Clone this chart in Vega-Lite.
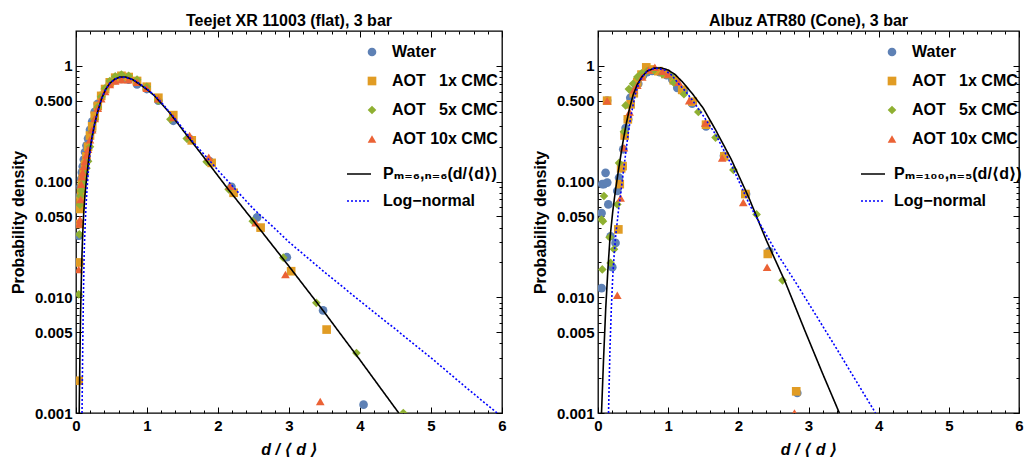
{
  "$schema": "https://vega.github.io/schema/vega-lite/v6.json",
  "background": "white",
  "padding": {"left": 9, "top": 11, "right": 3, "bottom": 0},
  "config": {
    "font": "Liberation Sans, DejaVu Sans",
    "view": {"stroke": "black", "strokeWidth": 1.3},
    "axis": {"grid": false, "domain": false, "labelFont": "Liberation Sans, DejaVu Sans", "labelFontWeight": "bold", "labelFontSize": 15, "labelColor": "black", "titleFont": "Liberation Sans, DejaVu Sans", "titleFontWeight": "bold", "titleFontSize": 16, "titleColor": "black", "tickColor": "black", "tickWidth": 1},
    "legend": {"labelFont": "Liberation Sans, DejaVu Sans", "labelFontWeight": "bold", "labelFontSize": 16, "labelColor": "black", "padding": 0, "labelLimit": 400},
    "title": {"font": "Liberation Sans, DejaVu Sans", "fontSize": 16, "fontWeight": "bold", "color": "black"}
  },
  "spacing": 24,
  "resolve": {"scale": {"color": "independent", "shape": "independent", "strokeDash": "independent"}},
  "hconcat": [
    {
      "width": 426, "height": 382,
      "title": {"text": "Teejet XR 11003 (flat), 3 bar", "frame": "group", "offset": 2},
      "layer": [
        {
          "data": {"name": "ptsL"},
          "mark": {"type": "point", "filled": true, "opacity": 1, "size": 75, "clip": true},
          "encoding": {
            "x": {"field": "x", "type": "quantitative", "scale": {"domain": [0, 6], "nice": false, "zero": false}, "axis": {"orient": "bottom", "values": [0,1,2,3,4,5,6], "labelFlush": false, "tickSize": -6, "labelPadding": 11, "title": "d / ⟨ d ⟩", "titleFontStyle": "italic", "titlePadding": 8}},
            "y": {"field": "y", "type": "quantitative", "scale": {"type": "log", "domain": [0.001, 2], "nice": false}, "axis": {"orient": "left", "values": [0.001,0.005,0.01,0.05,0.1,0.5,1], "labelFlush": false, "labelExpr": "datum.value >= 1 ? '1' : format(datum.value, '.3f')", "tickSize": -6, "labelPadding": 10, "title": "Probability density", "titlePadding": 8}},
            "color": {"field": "s", "type": "nominal", "scale": {"domain": ["W", "A1", "A5", "A10"], "range": ["#5E81B5", "#E19C24", "#8FB032", "#EB6235"]}, "legend": {"title": null, "orient": "none", "legendX": 288, "legendY": 13, "rowPadding": 13, "labelOffset": 12, "symbolSize": 75, "symbolStrokeWidth": 0, "labelExpr": "datum.label == 'W' ? 'Water' : datum.label == 'A1' ? 'AOT\u00a0\u00a0\u00a01x CMC' : datum.label == 'A5' ? 'AOT\u00a0\u00a0\u00a05x CMC' : 'AOT 10x CMC'"}},
            "shape": {"field": "s", "type": "nominal", "scale": {"domain": ["W", "A1", "A5", "A10"], "range": ["circle", "square", "diamond", "triangle-up"]}, "legend": {"title": null, "orient": "none", "legendX": 288, "legendY": 13, "rowPadding": 13, "labelOffset": 12, "symbolSize": 75, "symbolStrokeWidth": 0, "labelExpr": "datum.label == 'W' ? 'Water' : datum.label == 'A1' ? 'AOT\u00a0\u00a0\u00a01x CMC' : datum.label == 'A5' ? 'AOT\u00a0\u00a0\u00a05x CMC' : 'AOT 10x CMC'"}}
          }
        },
        {
          "data": {"name": "curL"},
          "mark": {"type": "line", "strokeWidth": 1.6, "clip": true},
          "encoding": {
            "x": {"field": "x", "type": "quantitative", "scale": {"domain": [0, 6], "nice": false, "zero": false}, "axis": {"orient": "bottom", "values": [0.2,0.4,0.6,0.8,1.2,1.4,1.6,1.8,2.2,2.4,2.6,2.8,3.2,3.4,3.6,3.8,4.2,4.4,4.6,4.8,5.2,5.4,5.6,5.8], "tickSize": -3, "labels": false, "title": null}},
            "y": {"field": "y", "type": "quantitative", "scale": {"type": "log", "domain": [0.001, 2], "nice": false}, "axis": {"orient": "left", "values": [0.002,0.003,0.004,0.006,0.007,0.008,0.009,0.02,0.03,0.04,0.06,0.07,0.08,0.09,0.2,0.3,0.4,0.6,0.7,0.8,0.9], "tickSize": -3, "labels": false, "title": null}},
            "color": {"field": "c", "type": "nominal", "scale": {"domain": ["P", "LN"], "range": ["black", "#0000FF"]}, "legend": {"title": null, "orient": "none", "legendX": 270, "legendY": 130, "rowPadding": 6, "labelOffset": 11, "symbolSize": 576, "symbolStrokeWidth": 1.6, "symbolType": "stroke", "labelExpr": "datum.label == 'P' ? 'Pₘ₌₆,ₙ₌₆(d/⟨d⟩)' : 'Log−normal'"}},
            "strokeDash": {"field": "c", "type": "nominal", "scale": {"domain": ["P", "LN"], "range": [[1, 0], [2, 2]]}, "legend": {"title": null, "orient": "none", "legendX": 270, "legendY": 130, "rowPadding": 6, "labelOffset": 11, "symbolSize": 576, "symbolStrokeWidth": 1.6, "symbolType": "stroke", "labelExpr": "datum.label == 'P' ? 'Pₘ₌₆,ₙ₌₆(d/⟨d⟩)' : 'Log−normal'"}}
          }
        },
        {
          "data": {"name": "curL"},
          "mark": {"type": "line", "opacity": 0},
          "encoding": {
            "x": {"field": "x", "type": "quantitative", "scale": {"domain": [0, 6], "nice": false, "zero": false}, "axis": {"orient": "top", "values": [0,1,2,3,4,5,6], "tickSize": -6, "labels": false, "title": null, "maxExtent": 0}},
            "y": {"field": "y", "type": "quantitative", "scale": {"type": "log", "domain": [0.001, 2], "nice": false}, "axis": {"orient": "right", "values": [0.001,0.005,0.01,0.05,0.1,0.5,1], "tickSize": -6, "labels": false, "title": null, "maxExtent": 0}},
            "detail": {"field": "c"}
          }
        },
        {
          "data": {"name": "curL"},
          "mark": {"type": "line", "opacity": 0},
          "encoding": {
            "x": {"field": "x", "type": "quantitative", "scale": {"domain": [0, 6], "nice": false, "zero": false}, "axis": {"orient": "top", "values": [0.2,0.4,0.6,0.8,1.2,1.4,1.6,1.8,2.2,2.4,2.6,2.8,3.2,3.4,3.6,3.8,4.2,4.4,4.6,4.8,5.2,5.4,5.6,5.8], "tickSize": -3, "labels": false, "title": null, "maxExtent": 0}},
            "y": {"field": "y", "type": "quantitative", "scale": {"type": "log", "domain": [0.001, 2], "nice": false}, "axis": {"orient": "right", "values": [0.002,0.003,0.004,0.006,0.007,0.008,0.009,0.02,0.03,0.04,0.06,0.07,0.08,0.09,0.2,0.3,0.4,0.6,0.7,0.8,0.9], "tickSize": -3, "labels": false, "title": null, "maxExtent": 0}},
            "detail": {"field": "c"}
          }
        }
      ],
      "resolve": {"axis": {"x": "independent", "y": "independent"}, "scale": {"color": "independent", "shape": "independent", "strokeDash": "independent"}}
    },
    {
      "width": 421, "height": 382,
      "title": {"text": "Albuz ATR80 (Cone), 3 bar", "frame": "group", "offset": 2},
      "layer": [
        {
          "data": {"name": "ptsR"},
          "mark": {"type": "point", "filled": true, "opacity": 1, "size": 75, "clip": true},
          "encoding": {
            "x": {"field": "x", "type": "quantitative", "scale": {"domain": [0, 6], "nice": false, "zero": false}, "axis": {"orient": "bottom", "values": [0,1,2,3,4,5,6], "labelFlush": false, "tickSize": -6, "labelPadding": 11, "title": "d / ⟨ d ⟩", "titleFontStyle": "italic", "titlePadding": 8}},
            "y": {"field": "y", "type": "quantitative", "scale": {"type": "log", "domain": [0.001, 2], "nice": false}, "axis": {"orient": "left", "values": [0.001,0.005,0.01,0.05,0.1,0.5,1], "labelFlush": false, "labelExpr": "datum.value >= 1 ? '1' : format(datum.value, '.3f')", "tickSize": -6, "labelPadding": 10, "title": "Probability density", "titlePadding": 8}},
            "color": {"field": "s", "type": "nominal", "scale": {"domain": ["W", "A1", "A5", "A10"], "range": ["#5E81B5", "#E19C24", "#8FB032", "#EB6235"]}, "legend": {"title": null, "orient": "none", "legendX": 286, "legendY": 13, "rowPadding": 13, "labelOffset": 12, "symbolSize": 75, "symbolStrokeWidth": 0, "labelExpr": "datum.label == 'W' ? 'Water' : datum.label == 'A1' ? 'AOT\u00a0\u00a0\u00a01x CMC' : datum.label == 'A5' ? 'AOT\u00a0\u00a0\u00a05x CMC' : 'AOT 10x CMC'"}},
            "shape": {"field": "s", "type": "nominal", "scale": {"domain": ["W", "A1", "A5", "A10"], "range": ["circle", "square", "diamond", "triangle-up"]}, "legend": {"title": null, "orient": "none", "legendX": 286, "legendY": 13, "rowPadding": 13, "labelOffset": 12, "symbolSize": 75, "symbolStrokeWidth": 0, "labelExpr": "datum.label == 'W' ? 'Water' : datum.label == 'A1' ? 'AOT\u00a0\u00a0\u00a01x CMC' : datum.label == 'A5' ? 'AOT\u00a0\u00a0\u00a05x CMC' : 'AOT 10x CMC'"}}
          }
        },
        {
          "data": {"name": "curR"},
          "mark": {"type": "line", "strokeWidth": 1.6, "clip": true},
          "encoding": {
            "x": {"field": "x", "type": "quantitative", "scale": {"domain": [0, 6], "nice": false, "zero": false}, "axis": {"orient": "bottom", "values": [0.2,0.4,0.6,0.8,1.2,1.4,1.6,1.8,2.2,2.4,2.6,2.8,3.2,3.4,3.6,3.8,4.2,4.4,4.6,4.8,5.2,5.4,5.6,5.8], "tickSize": -3, "labels": false, "title": null}},
            "y": {"field": "y", "type": "quantitative", "scale": {"type": "log", "domain": [0.001, 2], "nice": false}, "axis": {"orient": "left", "values": [0.002,0.003,0.004,0.006,0.007,0.008,0.009,0.02,0.03,0.04,0.06,0.07,0.08,0.09,0.2,0.3,0.4,0.6,0.7,0.8,0.9], "tickSize": -3, "labels": false, "title": null}},
            "color": {"field": "c", "type": "nominal", "scale": {"domain": ["P", "LN"], "range": ["black", "#0000FF"]}, "legend": {"title": null, "orient": "none", "legendX": 262, "legendY": 130, "rowPadding": 6, "labelOffset": 8, "symbolSize": 576, "symbolStrokeWidth": 1.6, "symbolType": "stroke", "labelExpr": "datum.label == 'P' ? 'Pₘ₌₁₀₀,ₙ₌₅(d/⟨d⟩)' : 'Log−normal'"}},
            "strokeDash": {"field": "c", "type": "nominal", "scale": {"domain": ["P", "LN"], "range": [[1, 0], [2, 2]]}, "legend": {"title": null, "orient": "none", "legendX": 262, "legendY": 130, "rowPadding": 6, "labelOffset": 8, "symbolSize": 576, "symbolStrokeWidth": 1.6, "symbolType": "stroke", "labelExpr": "datum.label == 'P' ? 'Pₘ₌₁₀₀,ₙ₌₅(d/⟨d⟩)' : 'Log−normal'"}}
          }
        },
        {
          "data": {"name": "curR"},
          "mark": {"type": "line", "opacity": 0},
          "encoding": {
            "x": {"field": "x", "type": "quantitative", "scale": {"domain": [0, 6], "nice": false, "zero": false}, "axis": {"orient": "top", "values": [0,1,2,3,4,5,6], "tickSize": -6, "labels": false, "title": null, "maxExtent": 0}},
            "y": {"field": "y", "type": "quantitative", "scale": {"type": "log", "domain": [0.001, 2], "nice": false}, "axis": {"orient": "right", "values": [0.001,0.005,0.01,0.05,0.1,0.5,1], "tickSize": -6, "labels": false, "title": null, "maxExtent": 0}},
            "detail": {"field": "c"}
          }
        },
        {
          "data": {"name": "curR"},
          "mark": {"type": "line", "opacity": 0},
          "encoding": {
            "x": {"field": "x", "type": "quantitative", "scale": {"domain": [0, 6], "nice": false, "zero": false}, "axis": {"orient": "top", "values": [0.2,0.4,0.6,0.8,1.2,1.4,1.6,1.8,2.2,2.4,2.6,2.8,3.2,3.4,3.6,3.8,4.2,4.4,4.6,4.8,5.2,5.4,5.6,5.8], "tickSize": -3, "labels": false, "title": null, "maxExtent": 0}},
            "y": {"field": "y", "type": "quantitative", "scale": {"type": "log", "domain": [0.001, 2], "nice": false}, "axis": {"orient": "right", "values": [0.002,0.003,0.004,0.006,0.007,0.008,0.009,0.02,0.03,0.04,0.06,0.07,0.08,0.09,0.2,0.3,0.4,0.6,0.7,0.8,0.9], "tickSize": -3, "labels": false, "title": null, "maxExtent": 0}},
            "detail": {"field": "c"}
          }
        }
      ],
      "resolve": {"axis": {"x": "independent", "y": "independent"}, "scale": {"color": "independent", "shape": "independent", "strokeDash": "independent"}}
    }
  ],
  "datasets": {
    "ptsL": [
      {"s":"W","x":0.042,"y":0.034},{"s":"W","x":0.048,"y":0.06},{"s":"W","x":0.055,"y":0.075},{"s":"W","x":0.063,"y":0.09},{"s":"W","x":0.072,"y":0.105},{"s":"W","x":0.083,"y":0.12},{"s":"W","x":0.095,"y":0.135},{"s":"W","x":0.11,"y":0.155},{"s":"W","x":0.127,"y":0.18},{"s":"W","x":0.147,"y":0.205},{"s":"W","x":0.17,"y":0.235},{"s":"W","x":0.197,"y":0.28},{"s":"W","x":0.228,"y":0.33},{"s":"W","x":0.264,"y":0.4},{"s":"W","x":0.306,"y":0.47},{"s":"W","x":0.355,"y":0.55},{"s":"W","x":0.41,"y":0.63},{"s":"W","x":0.476,"y":0.7},{"s":"W","x":0.552,"y":0.75},{"s":"W","x":0.64,"y":0.77},{"s":"W","x":0.742,"y":0.76},{"s":"W","x":0.86,"y":0.69},{"s":"W","x":0.997,"y":0.63},{"s":"W","x":1.16,"y":0.5},{"s":"W","x":1.37,"y":0.335},{"s":"W","x":1.61,"y":0.232},{"s":"W","x":1.88,"y":0.15},{"s":"W","x":2.19,"y":0.09},{"s":"W","x":2.55,"y":0.049},{"s":"W","x":2.97,"y":0.0222},{"s":"W","x":3.48,"y":0.0077},{"s":"W","x":4.05,"y":0.00118},
      {"s":"A1","x":0.038,"y":0.0019},{"s":"A1","x":0.042,"y":0.02},{"s":"A1","x":0.047,"y":0.043},{"s":"A1","x":0.055,"y":0.058},{"s":"A1","x":0.063,"y":0.068},{"s":"A1","x":0.072,"y":0.08},{"s":"A1","x":0.083,"y":0.095},{"s":"A1","x":0.095,"y":0.105},{"s":"A1","x":0.11,"y":0.12},{"s":"A1","x":0.127,"y":0.14},{"s":"A1","x":0.147,"y":0.165},{"s":"A1","x":0.17,"y":0.2},{"s":"A1","x":0.197,"y":0.25},{"s":"A1","x":0.228,"y":0.3},{"s":"A1","x":0.264,"y":0.37},{"s":"A1","x":0.306,"y":0.45},{"s":"A1","x":0.355,"y":0.55},{"s":"A1","x":0.41,"y":0.63},{"s":"A1","x":0.476,"y":0.72},{"s":"A1","x":0.552,"y":0.79},{"s":"A1","x":0.64,"y":0.82},{"s":"A1","x":0.742,"y":0.8},{"s":"A1","x":0.86,"y":0.74},{"s":"A1","x":0.997,"y":0.66},{"s":"A1","x":1.16,"y":0.53},{"s":"A1","x":1.37,"y":0.375},{"s":"A1","x":1.63,"y":0.227},{"s":"A1","x":1.91,"y":0.145},{"s":"A1","x":2.22,"y":0.08},{"s":"A1","x":2.6,"y":0.04},{"s":"A1","x":3.03,"y":0.0168},{"s":"A1","x":3.53,"y":0.00526},
      {"s":"A5","x":0.038,"y":0.0106},{"s":"A5","x":0.047,"y":0.035},{"s":"A5","x":0.055,"y":0.063},{"s":"A5","x":0.063,"y":0.075},{"s":"A5","x":0.072,"y":0.083},{"s":"A5","x":0.083,"y":0.09},{"s":"A5","x":0.095,"y":0.097},{"s":"A5","x":0.11,"y":0.105},{"s":"A5","x":0.127,"y":0.115},{"s":"A5","x":0.147,"y":0.13},{"s":"A5","x":0.17,"y":0.15},{"s":"A5","x":0.197,"y":0.2},{"s":"A5","x":0.228,"y":0.27},{"s":"A5","x":0.264,"y":0.34},{"s":"A5","x":0.306,"y":0.44},{"s":"A5","x":0.355,"y":0.54},{"s":"A5","x":0.41,"y":0.64},{"s":"A5","x":0.476,"y":0.74},{"s":"A5","x":0.552,"y":0.81},{"s":"A5","x":0.64,"y":0.84},{"s":"A5","x":0.742,"y":0.82},{"s":"A5","x":0.86,"y":0.76},{"s":"A5","x":0.997,"y":0.66},{"s":"A5","x":1.16,"y":0.5},{"s":"A5","x":1.33,"y":0.345},{"s":"A5","x":1.56,"y":0.235},{"s":"A5","x":1.84,"y":0.148},{"s":"A5","x":2.15,"y":0.0857},{"s":"A5","x":2.49,"y":0.0455},{"s":"A5","x":2.92,"y":0.022},{"s":"A5","x":3.385,"y":0.00895},{"s":"A5","x":3.95,"y":0.0033},{"s":"A5","x":4.61,"y":0.001},
      {"s":"A10","x":0.038,"y":0.0174},{"s":"A10","x":0.045,"y":0.043},{"s":"A10","x":0.056,"y":0.047},{"s":"A10","x":0.065,"y":0.07},{"s":"A10","x":0.075,"y":0.095},{"s":"A10","x":0.085,"y":0.11},{"s":"A10","x":0.095,"y":0.12},{"s":"A10","x":0.11,"y":0.135},{"s":"A10","x":0.127,"y":0.15},{"s":"A10","x":0.147,"y":0.17},{"s":"A10","x":0.17,"y":0.19},{"s":"A10","x":0.197,"y":0.23},{"s":"A10","x":0.228,"y":0.28},{"s":"A10","x":0.264,"y":0.35},{"s":"A10","x":0.306,"y":0.43},{"s":"A10","x":0.355,"y":0.52},{"s":"A10","x":0.41,"y":0.6},{"s":"A10","x":0.476,"y":0.69},{"s":"A10","x":0.552,"y":0.74},{"s":"A10","x":0.64,"y":0.76},{"s":"A10","x":0.742,"y":0.76},{"s":"A10","x":0.86,"y":0.72},{"s":"A10","x":0.997,"y":0.64},{"s":"A10","x":1.16,"y":0.52},{"s":"A10","x":1.37,"y":0.358},{"s":"A10","x":1.6,"y":0.25},{"s":"A10","x":1.87,"y":0.162},{"s":"A10","x":2.17,"y":0.091},{"s":"A10","x":2.53,"y":0.044},{"s":"A10","x":2.95,"y":0.0157},{"s":"A10","x":3.44,"y":0.00126}
    ],
    "ptsR": [
      {"s":"W","x":0.051,"y":0.012},{"s":"W","x":0.051,"y":0.0535},{"s":"W","x":0.061,"y":0.095},{"s":"W","x":0.085,"y":0.095},{"s":"W","x":0.108,"y":0.119},{"s":"W","x":0.13,"y":0.5},{"s":"W","x":0.132,"y":0.098},{"s":"W","x":0.147,"y":0.0635},{"s":"W","x":0.18,"y":0.0337},{"s":"W","x":0.204,"y":0.0182},{"s":"W","x":0.25,"y":0.0295},{"s":"W","x":0.275,"y":0.083},{"s":"W","x":0.3,"y":0.108},{"s":"W","x":0.346,"y":0.136},{"s":"W","x":0.36,"y":0.19},{"s":"W","x":0.393,"y":0.29},{"s":"W","x":0.43,"y":0.345},{"s":"W","x":0.46,"y":0.53},{"s":"W","x":0.5,"y":0.6},{"s":"W","x":0.574,"y":0.7},{"s":"W","x":0.64,"y":0.82},{"s":"W","x":0.7,"y":0.88},{"s":"W","x":0.773,"y":0.905},{"s":"W","x":0.88,"y":0.88},{"s":"W","x":0.98,"y":0.83},{"s":"W","x":1.06,"y":0.76},{"s":"W","x":1.13,"y":0.645},{"s":"W","x":1.225,"y":0.6},{"s":"W","x":1.343,"y":0.47},{"s":"W","x":1.54,"y":0.3},{"s":"W","x":1.795,"y":0.167},{"s":"W","x":2.11,"y":0.078},{"s":"W","x":2.44,"y":0.025},{"s":"W","x":2.84,"y":0.00149},
      {"s":"A1","x":0.13,"y":0.5},{"s":"A1","x":0.29,"y":0.0386},{"s":"A1","x":0.31,"y":0.095},{"s":"A1","x":0.33,"y":0.13},{"s":"A1","x":0.35,"y":0.136},{"s":"A1","x":0.38,"y":0.25},{"s":"A1","x":0.425,"y":0.345},{"s":"A1","x":0.465,"y":0.465},{"s":"A1","x":0.51,"y":0.58},{"s":"A1","x":0.56,"y":0.72},{"s":"A1","x":0.62,"y":0.84},{"s":"A1","x":0.688,"y":0.97},{"s":"A1","x":0.76,"y":0.93},{"s":"A1","x":0.86,"y":0.9},{"s":"A1","x":0.96,"y":0.85},{"s":"A1","x":1.08,"y":0.75},{"s":"A1","x":1.2,"y":0.62},{"s":"A1","x":1.35,"y":0.49},{"s":"A1","x":1.54,"y":0.31},{"s":"A1","x":1.8,"y":0.165},{"s":"A1","x":2.1,"y":0.078},{"s":"A1","x":2.42,"y":0.0237},{"s":"A1","x":2.825,"y":0.00154},
      {"s":"A5","x":0.051,"y":0.047},{"s":"A5","x":0.061,"y":0.0174},{"s":"A5","x":0.07,"y":0.0455},{"s":"A5","x":0.085,"y":0.075},{"s":"A5","x":0.165,"y":0.033},{"s":"A5","x":0.18,"y":0.0198},{"s":"A5","x":0.228,"y":0.026},{"s":"A5","x":0.275,"y":0.0635},{"s":"A5","x":0.3,"y":0.145},{"s":"A5","x":0.37,"y":0.27},{"s":"A5","x":0.393,"y":0.455},{"s":"A5","x":0.44,"y":0.63},{"s":"A5","x":0.5,"y":0.7},{"s":"A5","x":0.56,"y":0.8},{"s":"A5","x":0.62,"y":0.86},{"s":"A5","x":0.7,"y":0.9},{"s":"A5","x":0.8,"y":0.92},{"s":"A5","x":0.916,"y":0.85},{"s":"A5","x":1.034,"y":0.82},{"s":"A5","x":1.08,"y":0.716},{"s":"A5","x":1.225,"y":0.568},{"s":"A5","x":1.43,"y":0.4},{"s":"A5","x":1.675,"y":0.24},{"s":"A5","x":1.93,"y":0.126},{"s":"A5","x":2.26,"y":0.052},{"s":"A5","x":2.63,"y":0.014},
      {"s":"A10","x":0.13,"y":0.5},{"s":"A10","x":0.275,"y":0.0104},{"s":"A10","x":0.322,"y":0.072},{"s":"A10","x":0.37,"y":0.196},{"s":"A10","x":0.45,"y":0.4},{"s":"A10","x":0.513,"y":0.62},{"s":"A10","x":0.56,"y":0.68},{"s":"A10","x":0.63,"y":0.8},{"s":"A10","x":0.72,"y":0.92},{"s":"A10","x":0.81,"y":0.97},{"s":"A10","x":0.92,"y":0.9},{"s":"A10","x":1.0,"y":0.85},{"s":"A10","x":1.15,"y":0.72},{"s":"A10","x":1.3,"y":0.5},{"s":"A10","x":1.53,"y":0.32},{"s":"A10","x":1.77,"y":0.16},{"s":"A10","x":2.07,"y":0.066},{"s":"A10","x":2.41,"y":0.0182},{"s":"A10","x":2.8,"y":0.001}
    ],
    "curL": [
      {"c":"P","x":0.045,"y":0.001},{"c":"P","x":0.055,"y":0.003},{"c":"P","x":0.065,"y":0.0075},{"c":"P","x":0.075,"y":0.014},{"c":"P","x":0.085,"y":0.024},{"c":"P","x":0.095,"y":0.036},{"c":"P","x":0.11,"y":0.055},{"c":"P","x":0.127,"y":0.077},{"c":"P","x":0.15,"y":0.108},{"c":"P","x":0.175,"y":0.15},{"c":"P","x":0.2,"y":0.195},{"c":"P","x":0.225,"y":0.24},{"c":"P","x":0.26,"y":0.31},{"c":"P","x":0.3,"y":0.39},{"c":"P","x":0.36,"y":0.52},{"c":"P","x":0.42,"y":0.63},{"c":"P","x":0.48,"y":0.71},{"c":"P","x":0.55,"y":0.77},{"c":"P","x":0.62,"y":0.8},{"c":"P","x":0.7,"y":0.8},{"c":"P","x":0.8,"y":0.76},{"c":"P","x":0.9,"y":0.69},{"c":"P","x":1.0,"y":0.625},{"c":"P","x":1.1,"y":0.555},{"c":"P","x":1.2,"y":0.475},{"c":"P","x":1.33,"y":0.385},{"c":"P","x":1.5,"y":0.281},{"c":"P","x":1.66,"y":0.21},{"c":"P","x":1.85,"y":0.148},{"c":"P","x":2.0,"y":0.112},{"c":"P","x":2.13,"y":0.088},{"c":"P","x":2.3,"y":0.065},{"c":"P","x":2.5,"y":0.0455},{"c":"P","x":2.75,"y":0.029},{"c":"P","x":3.0,"y":0.0185},{"c":"P","x":3.25,"y":0.0117},{"c":"P","x":3.5,"y":0.0074},{"c":"P","x":3.75,"y":0.0046},{"c":"P","x":4.0,"y":0.00287},{"c":"P","x":4.25,"y":0.00177},{"c":"P","x":4.546,"y":0.001},
      {"c":"LN","x":0.085,"y":0.001},{"c":"LN","x":0.095,"y":0.004},{"c":"LN","x":0.105,"y":0.011},{"c":"LN","x":0.115,"y":0.024},{"c":"LN","x":0.125,"y":0.037},{"c":"LN","x":0.14,"y":0.06},{"c":"LN","x":0.155,"y":0.085},{"c":"LN","x":0.175,"y":0.125},{"c":"LN","x":0.2,"y":0.18},{"c":"LN","x":0.225,"y":0.24},{"c":"LN","x":0.26,"y":0.31},{"c":"LN","x":0.3,"y":0.39},{"c":"LN","x":0.36,"y":0.52},{"c":"LN","x":0.42,"y":0.63},{"c":"LN","x":0.48,"y":0.71},{"c":"LN","x":0.55,"y":0.77},{"c":"LN","x":0.62,"y":0.795},{"c":"LN","x":0.7,"y":0.795},{"c":"LN","x":0.8,"y":0.76},{"c":"LN","x":0.9,"y":0.7},{"c":"LN","x":1.0,"y":0.63},{"c":"LN","x":1.1,"y":0.56},{"c":"LN","x":1.2,"y":0.485},{"c":"LN","x":1.33,"y":0.39},{"c":"LN","x":1.5,"y":0.29},{"c":"LN","x":1.66,"y":0.215},{"c":"LN","x":1.85,"y":0.16},{"c":"LN","x":2.0,"y":0.125},{"c":"LN","x":2.25,"y":0.085},{"c":"LN","x":2.5,"y":0.058},{"c":"LN","x":2.75,"y":0.042},{"c":"LN","x":3.0,"y":0.03},{"c":"LN","x":3.5,"y":0.0165},{"c":"LN","x":4.0,"y":0.0093},{"c":"LN","x":4.5,"y":0.0053},{"c":"LN","x":5.0,"y":0.003},{"c":"LN","x":5.5,"y":0.00165},{"c":"LN","x":5.93,"y":0.001}
    ],
    "curR": [
      {"c":"P","x":0.05,"y":0.001},{"c":"P","x":0.08,"y":0.003},{"c":"P","x":0.11,"y":0.008},{"c":"P","x":0.14,"y":0.017},{"c":"P","x":0.17,"y":0.032},{"c":"P","x":0.21,"y":0.055},{"c":"P","x":0.25,"y":0.085},{"c":"P","x":0.3,"y":0.135},{"c":"P","x":0.35,"y":0.21},{"c":"P","x":0.4,"y":0.31},{"c":"P","x":0.45,"y":0.43},{"c":"P","x":0.5,"y":0.56},{"c":"P","x":0.56,"y":0.69},{"c":"P","x":0.63,"y":0.81},{"c":"P","x":0.7,"y":0.9},{"c":"P","x":0.8,"y":0.955},{"c":"P","x":0.9,"y":0.96},{"c":"P","x":1.0,"y":0.92},{"c":"P","x":1.1,"y":0.84},{"c":"P","x":1.2,"y":0.73},{"c":"P","x":1.34,"y":0.58},{"c":"P","x":1.5,"y":0.43},{"c":"P","x":1.675,"y":0.28},{"c":"P","x":1.9,"y":0.155},{"c":"P","x":2.15,"y":0.0725},{"c":"P","x":2.4,"y":0.031},{"c":"P","x":2.67,"y":0.0135},{"c":"P","x":2.94,"y":0.0053},{"c":"P","x":3.2,"y":0.0022},{"c":"P","x":3.44,"y":0.001},
      {"c":"LN","x":0.15,"y":0.001},{"c":"LN","x":0.17,"y":0.0035},{"c":"LN","x":0.19,"y":0.008},{"c":"LN","x":0.21,"y":0.015},{"c":"LN","x":0.23,"y":0.023},{"c":"LN","x":0.25,"y":0.033},{"c":"LN","x":0.29,"y":0.055},{"c":"LN","x":0.322,"y":0.077},{"c":"LN","x":0.36,"y":0.12},{"c":"LN","x":0.393,"y":0.172},{"c":"LN","x":0.43,"y":0.26},{"c":"LN","x":0.465,"y":0.356},{"c":"LN","x":0.5,"y":0.46},{"c":"LN","x":0.536,"y":0.58},{"c":"LN","x":0.58,"y":0.7},{"c":"LN","x":0.63,"y":0.8},{"c":"LN","x":0.7,"y":0.9},{"c":"LN","x":0.77,"y":0.945},{"c":"LN","x":0.85,"y":0.95},{"c":"LN","x":0.95,"y":0.92},{"c":"LN","x":1.05,"y":0.83},{"c":"LN","x":1.15,"y":0.7},{"c":"LN","x":1.25,"y":0.6},{"c":"LN","x":1.35,"y":0.5},{"c":"LN","x":1.5,"y":0.37},{"c":"LN","x":1.675,"y":0.256},{"c":"LN","x":1.9,"y":0.14},{"c":"LN","x":2.15,"y":0.065},{"c":"LN","x":2.3,"y":0.044},{"c":"LN","x":2.55,"y":0.024},{"c":"LN","x":2.815,"y":0.0135},{"c":"LN","x":3.1,"y":0.0071},{"c":"LN","x":3.4,"y":0.0036},{"c":"LN","x":3.7,"y":0.0018},{"c":"LN","x":3.955,"y":0.001}
    ]
  }
}
